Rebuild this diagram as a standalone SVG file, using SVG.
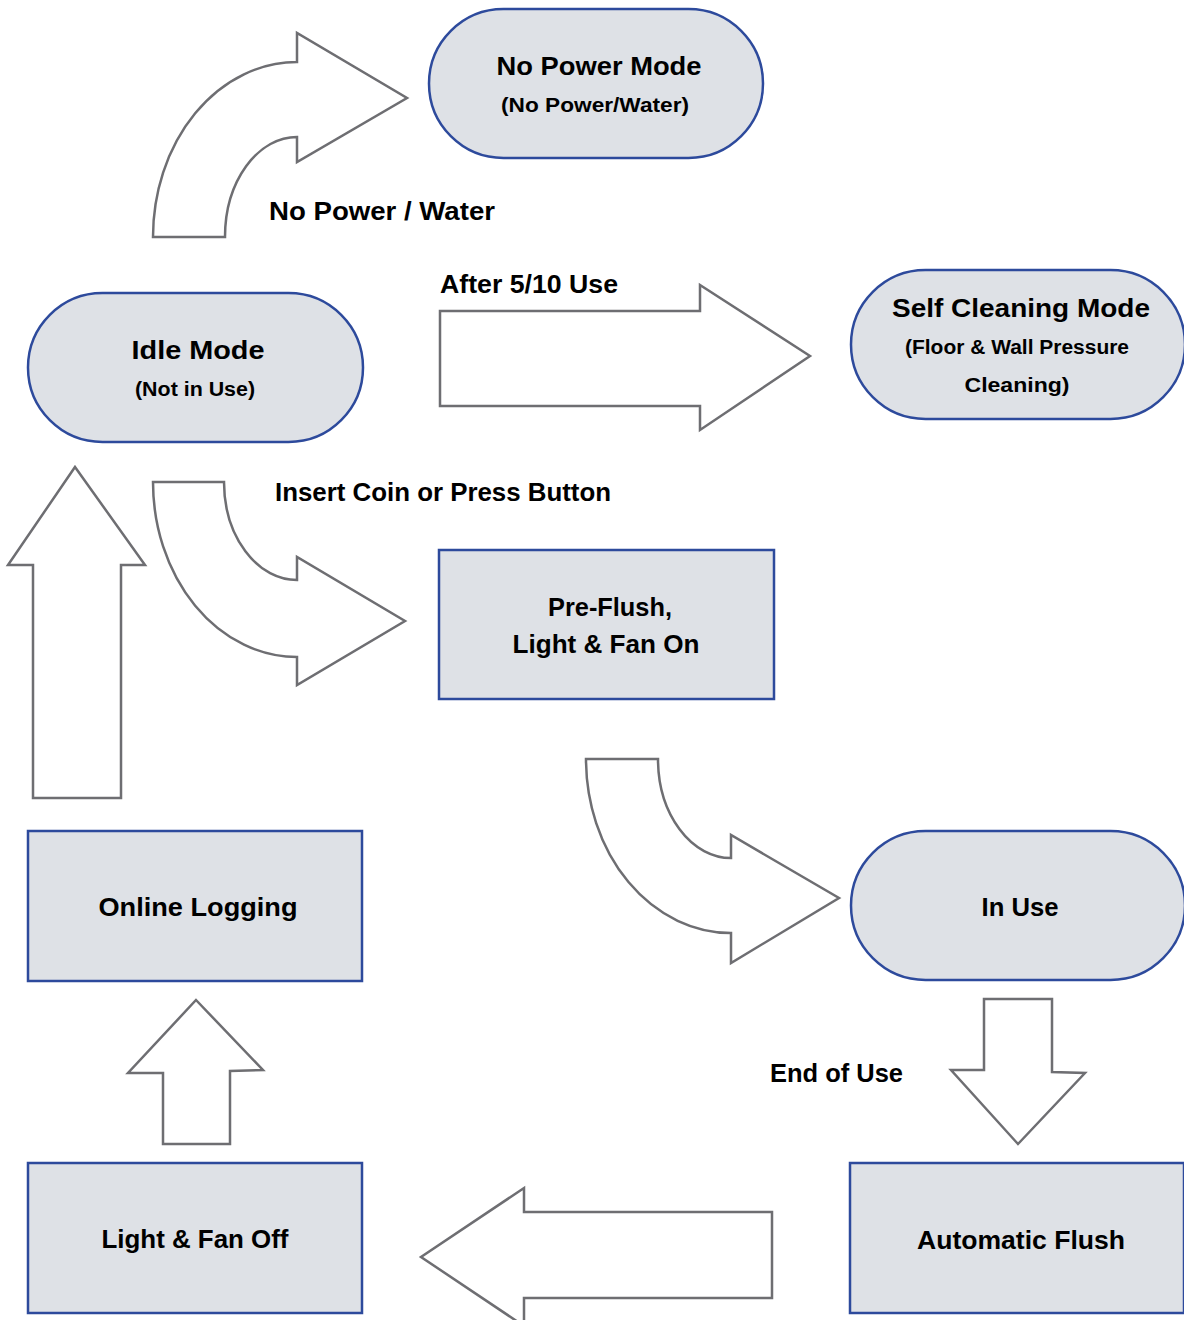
<svg xmlns="http://www.w3.org/2000/svg" width="1184" height="1320" viewBox="0 0 1184 1320">
<style>
.node{fill:#dee1e6;stroke:#2d4a9c;stroke-width:2.5}
.arr{fill:#ffffff;stroke:#6e6e72;stroke-width:2.5;stroke-linejoin:miter}
text{font-family:"Liberation Sans",Arial,sans-serif;font-weight:bold;fill:#000}
.t{font-size:26px;text-anchor:middle}
.s{font-size:20px;text-anchor:middle}
.e{font-size:25px}
</style>
<rect width="1184" height="1320" fill="#ffffff"/>
<g id="connectors">
<path class="arr" d="M153,237 A144,175 0 0 1 297,62 L297,33 L407,98 L297,162 L297,137 A72,100 0 0 0 225,237 Z"/>
<path class="arr" d="M440,311 L700,311 L700,285 L810,356 L700,430 L700,406 L440,406 Z"/>
<path class="arr" d="M153,482 L224,482 A73,98 0 0 0 297,580 L297,557 L405,621 L297,685 L297,657 A144,175 0 0 1 153,482 Z"/>
<path class="arr" d="M586,759 L658,759 A73,99 0 0 0 731,858 L731,835 L839,898 L731,963 L731,933 A145,174 0 0 1 586,759 Z"/>
<path class="arr" d="M75,467 L145,565 L121,565 L121,798 L33,798 L33,565 L8,565 Z"/>
<path class="arr" d="M984,999 L1052,999 L1052,1072 L1085,1073 L1018,1144 L951,1070 L984,1070 Z"/>
<path class="arr" d="M772,1212 L524,1212 L524,1188 L421,1257 L524,1326 L524,1298 L772,1298 Z"/>
<path class="arr" d="M196,1000 L263,1070 L230,1071 L230,1144 L163,1144 L163,1073 L128,1073 Z"/>
<text class="e" x="269" y="220" textLength="226" lengthAdjust="spacingAndGlyphs">No Power / Water</text>
<text class="e" x="440" y="293" textLength="178" lengthAdjust="spacingAndGlyphs">After 5/10 Use</text>
<text class="e" x="275" y="501" textLength="336" lengthAdjust="spacingAndGlyphs">Insert Coin or Press Button</text>
<text class="e" x="770" y="1082" textLength="133" lengthAdjust="spacingAndGlyphs">End of Use</text>
</g>
<g id="no-power-mode">
<rect class="node" x="429" y="9" width="334" height="149" rx="74.5"/>
<text class="t" x="599" y="75" textLength="205" lengthAdjust="spacingAndGlyphs">No Power Mode</text>
<text class="s" x="595" y="112" textLength="188" lengthAdjust="spacingAndGlyphs">(No Power/Water)</text>
</g>
<g id="idle-mode">
<rect class="node" x="28" y="293" width="335" height="149" rx="74.5"/>
<text class="t" x="198" y="359" textLength="133" lengthAdjust="spacingAndGlyphs">Idle Mode</text>
<text class="s" x="195" y="396" textLength="120" lengthAdjust="spacingAndGlyphs">(Not in Use)</text>
</g>
<g id="self-cleaning-mode">
<rect class="node" x="851" y="270" width="334" height="149" rx="74.5"/>
<text class="t" x="1021" y="317" textLength="258" lengthAdjust="spacingAndGlyphs">Self Cleaning Mode</text>
<text class="s" x="1017" y="354" textLength="224" lengthAdjust="spacingAndGlyphs">(Floor &amp; Wall Pressure</text>
<text class="s" x="1017" y="392" textLength="105" lengthAdjust="spacingAndGlyphs">Cleaning)</text>
</g>
<g id="pre-flush">
<rect class="node" x="439" y="550" width="335" height="149"/>
<text class="t" x="610" y="616" textLength="124" lengthAdjust="spacingAndGlyphs">Pre-Flush,</text>
<text class="t" x="606" y="653" textLength="187" lengthAdjust="spacingAndGlyphs">Light &amp; Fan On</text>
</g>
<g id="in-use">
<rect class="node" x="851" y="831" width="334" height="149" rx="74.5"/>
<text class="t" x="1020" y="916" textLength="77" lengthAdjust="spacingAndGlyphs">In Use</text>
</g>
<g id="online-logging">
<rect class="node" x="28" y="831" width="334" height="150"/>
<text class="t" x="198" y="916" textLength="199" lengthAdjust="spacingAndGlyphs">Online Logging</text>
</g>
<g id="light-fan-off">
<rect class="node" x="28" y="1163" width="334" height="150"/>
<text class="t" x="195" y="1248" textLength="187" lengthAdjust="spacingAndGlyphs">Light &amp; Fan Off</text>
</g>
<g id="automatic-flush">
<rect class="node" x="850" y="1163" width="334" height="150"/>
<text class="t" x="1021" y="1249" textLength="208" lengthAdjust="spacingAndGlyphs">Automatic Flush</text>
</g>
</svg>
